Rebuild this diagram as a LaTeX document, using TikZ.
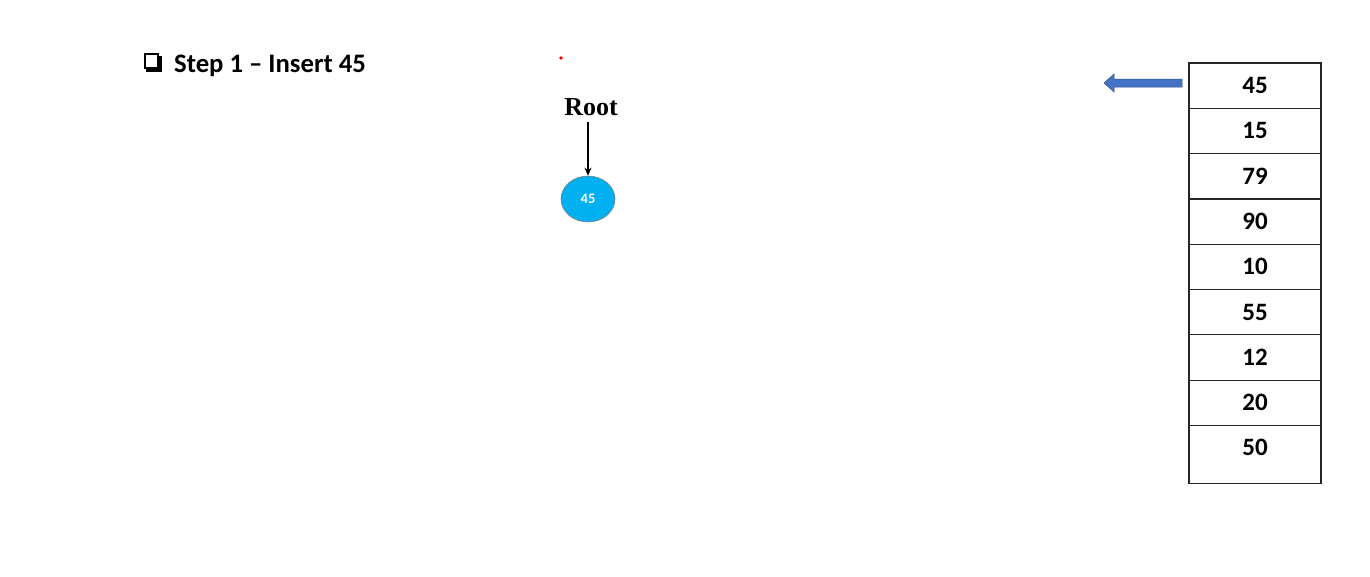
\documentclass[tikz,border=0pt]{standalone}
\usepackage{fontspec}
\newfontfamily\calfont{Carlito}
\newfontfamily\timesfont{Liberation Serif}
\usetikzlibrary{arrows.meta,shapes.geometric}
\definecolor{nodeblue}{HTML}{00B0F0}
\definecolor{arrowblue}{HTML}{4472C4}
\tikzset{
  cell/.style={draw=black!85, line width=1.2pt, minimum width=132pt, minimum height=45.3pt, inner sep=0pt, outer sep=0pt, anchor=north west, font=\calfont\bfseries\fontsize{25}{28}\selectfont},
  bstnode/.style={ellipse, draw=gray, line width=0.6pt, fill=nodeblue, minimum width=54pt, minimum height=46pt, inner sep=0pt, text=white, font=\calfont\bfseries\fontsize{14.5}{16}\selectfont},
  link/.style={-{Stealth[length=8pt,width=7pt]}, line width=1.6pt},
}
\begin{document}
\begin{tikzpicture}[x=1pt,y=-1pt]
\useasboundingbox (0,0) rectangle (1370,576);
% title
\draw[line width=2pt, fill=white] (144.5,54) rectangle (158,67.5);
\draw[line width=3pt] (146,70) -- (160.5,70) -- (160.5,56);
\node[anchor=west, inner sep=0pt, font=\calfont\bfseries\fontsize{26.7}{30}\selectfont] (title) at (174,65.5) {Step 1 – Insert 45};
% red dot
\fill[red] (561,58) circle (1.8);
% root
\node[inner sep=0pt, font=\timesfont\bfseries\fontsize{26}{28}\selectfont] (root) at (591,107) {Root};
\node[bstnode] (n45) at (588,199) {45};
\path (root.south -| n45.north) ++(0,6) coordinate (rs);
\draw[link] (rs) -- (n45.north);
% table
\node[cell] (c1) at (1189,63) {45};
\node[cell] (c2) at (1189,108.3) {15};
\node[cell] (c3) at (1189,153.6) {79};
\node[cell] (c4) at (1189,198.9) {90};
\node[cell] (c5) at (1189,244.2) {10};
\node[cell] (c6) at (1189,289.5) {55};
\node[cell] (c7) at (1189,334.8) {12};
\node[cell] (c8) at (1189,380.1) {20};
\node[cell, minimum height=58pt] (c9) at (1189,425.4) {};
\node[font=\calfont\bfseries\fontsize{25}{28}\selectfont] (c9t) at (1255,447) {50};
% block arrow
\fill[arrowblue] (1182,79) -- (1114,79) -- (1114,74) -- (1104,83) -- (1114,92) -- (1114,87) -- (1182,87) -- cycle;
\draw[arrowblue!70!black, line width=0.5pt] (1182,79) -- (1114,79) -- (1114,74) -- (1104,83) -- (1114,92) -- (1114,87) -- (1182,87) -- cycle;
\end{tikzpicture}
\end{document}
